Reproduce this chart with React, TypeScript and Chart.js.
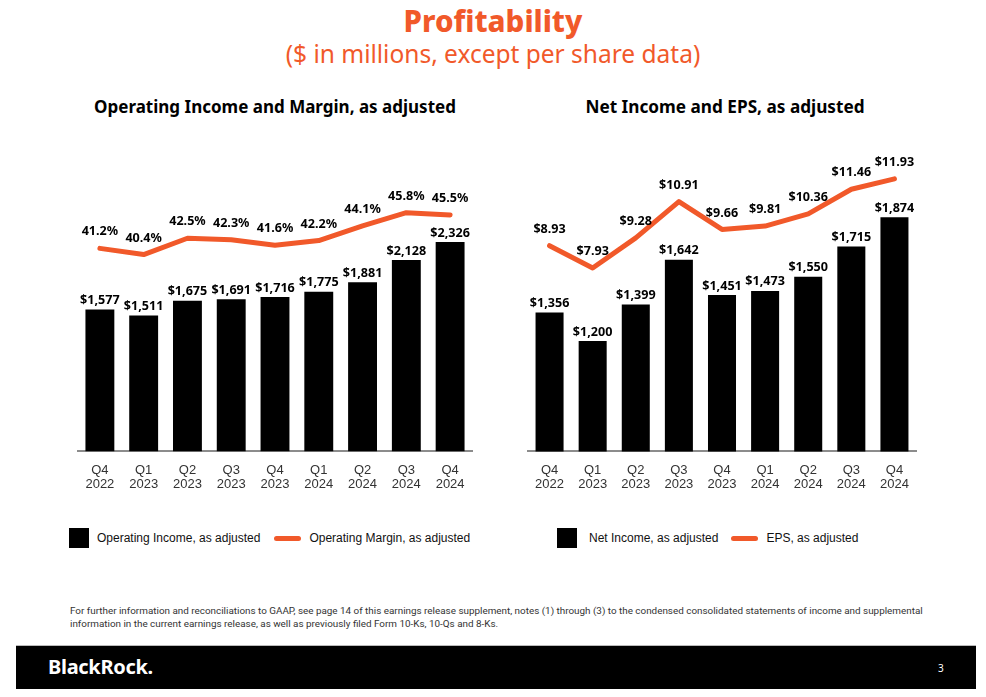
import React, { useEffect, useRef } from "react";
import { Chart, registerables } from "chart.js";

Chart.register(...registerables);

const QUARTERS: string[][] = [
  ["Q4", "2022"], ["Q1", "2023"], ["Q2", "2023"], ["Q3", "2023"], ["Q4", "2023"],
  ["Q1", "2024"], ["Q2", "2024"], ["Q3", "2024"], ["Q4", "2024"],
];
const OP_INCOME = [1577, 1511, 1675, 1691, 1716, 1775, 1881, 2128, 2326];
const OP_MARGIN = [41.2, 40.4, 42.5, 42.3, 41.6, 42.2, 44.1, 45.8, 45.5];
const NET_INCOME = [1356, 1200, 1399, 1642, 1451, 1473, 1550, 1715, 1874];
const EPS = [8.93, 7.93, 9.28, 10.91, 9.66, 9.81, 10.36, 11.46, 11.93];

const ORANGE = "#F1592A";
const LABEL_FONT = "bold 12.6px 'Noto Sans', sans-serif";

const fmtMoney = (v: number) => "$" + v.toLocaleString("en-US");
const fmtPct = (v: number) => v.toFixed(1) + "%";
const fmtEps = (v: number) => "$" + v.toFixed(2);

const valueLabels = {
  id: "valueLabels",
  afterDatasetsDraw(chart: any) {
    const ctx = chart.ctx;
    ctx.save();
    ctx.font = LABEL_FONT;
    ctx.fillStyle = "#000";
    ctx.textAlign = "center";
    ctx.textBaseline = "middle";
    chart.data.datasets.forEach((ds: any, i: number) => {
      const meta = chart.getDatasetMeta(i);
      const fmt = ds.fmt as (v: number) => string;
      const off = ds.type === "bar" ? 9 : 16.5;
      meta.data.forEach((el: any, j: number) => {
        ctx.fillText(fmt(ds.data[j]), el.x, el.y - off);
      });
    });
    ctx.restore();
  },
};

type ChartProps = {
  left: number;
  bars: number[];
  line: number[];
  barFmt: (v: number) => string;
  lineFmt: (v: number) => string;
  yMin: number;
  yMax: number;
  y2Min: number;
  y2Max: number;
  padRight: number;
  barPct: number;
};

function ComboChart(p: ChartProps) {
  const ref = useRef<HTMLCanvasElement | null>(null);
  useEffect(() => {
    if (!ref.current) return;
    const chart = new Chart(ref.current, {
      data: {
        labels: QUARTERS,
        datasets: [
          {
            type: "line",
            data: p.line,
            yAxisID: "y2",
            borderColor: ORANGE,
            borderWidth: 5,
            pointRadius: 0,
            tension: 0,
            borderJoinStyle: "round",
            borderCapStyle: "round",
            order: 0,
            fmt: p.lineFmt,
          } as any,
          {
            type: "bar",
            data: p.bars,
            yAxisID: "y",
            backgroundColor: "#000",
            barPercentage: p.barPct,
            categoryPercentage: 1,
            order: 1,
            fmt: p.barFmt,
          } as any,
        ],
      },
      options: {
        responsive: false,
        animation: false,
        layout: { padding: { left: 18, right: p.padRight, top: 0, bottom: 1 } },
        plugins: { legend: { display: false }, tooltip: { enabled: false } },
        scales: {
          x: {
            offset: true,
            grid: { display: false, drawTicks: false },
            border: { display: true, color: "#8c8c8c", width: 2 },
            ticks: {
              color: "#333",
              padding: 12,
              maxRotation: 0,
              autoSkip: false,
              font: { family: "'Liberation Sans', Arial, sans-serif", size: 13, lineHeight: 1.1 },
            },
          },
          y: { display: false, min: p.yMin, max: p.yMax },
          y2: { display: false, min: p.y2Min, max: p.y2Max, position: "right" },
        },
      },
      plugins: [valueLabels],
    });
    return () => chart.destroy();
  }, []);
  return (
    <canvas
      ref={ref}
      width={430}
      height={375}
      style={{ position: "absolute", left: p.left, top: 130, width: 430, height: 375 }}
    />
  );
}

const txt = (style: React.CSSProperties, s: string) => (
  <div style={{ position: "absolute", whiteSpace: "nowrap", ...style }}>{s}</div>
);

function Legend({ left, barText, lineText, textGap, gap }: { left: number; barText: string; lineText: string; textGap: number; gap: number }) {
  return (
    <div
      style={{
        position: "absolute",
        left,
        top: 528,
        height: 20,
        display: "flex",
        alignItems: "center",
        fontFamily: "'Liberation Sans', Arial, sans-serif",
        fontSize: 12,
        color: "#111",
        whiteSpace: "nowrap",
      }}
    >
      <div style={{ width: 20, height: 20, background: "#000" }} />
      <div style={{ marginLeft: textGap }}>{barText}</div>
      <div style={{ marginLeft: gap, width: 27, height: 5, borderRadius: 3, background: ORANGE }} />
      <div style={{ marginLeft: 8 }}>{lineText}</div>
    </div>
  );
}

export default function App() {
  return (
    <div
      style={{
        position: "absolute",
        left: 0,
        top: 0,
        width: 986,
        height: 697,
        background: "#fff",
        overflow: "hidden",
        fontFamily: "'Noto Sans', sans-serif",
      }}
    >
      {txt({ left: 0, width: 986, textAlign: "center", top: 2, fontSize: 29.5, fontWeight: 800, color: ORANGE, lineHeight: "38px" }, "Profitability")}
      {txt({ left: 0, width: 986, textAlign: "center", top: 38, fontSize: 24.5, color: ORANGE, lineHeight: "32px" }, "($ in millions, except per share data)")}
      {txt({ left: 60, width: 430, textAlign: "center", top: 95, fontSize: 17, fontWeight: 700, color: "#000", lineHeight: "24px" }, "Operating Income and Margin, as adjusted")}
      {txt({ left: 510, width: 430, textAlign: "center", top: 95, fontSize: 17.2, fontWeight: 700, color: "#000", lineHeight: "24px" }, "Net Income and EPS, as adjusted")}

      <ComboChart
        left={60}
        bars={OP_INCOME}
        line={OP_MARGIN}
        barFmt={fmtMoney}
        lineFmt={fmtPct}
        yMin={0}
        yMax={3572}
        y2Min={15.06}
        y2Max={56.44}
        padRight={18}
        barPct={0.66}
      />
      <ComboChart
        left={510}
        bars={NET_INCOME}
        line={EPS}
        barFmt={fmtMoney}
        lineFmt={fmtEps}
        yMin={600}
        yMax={2348}
        y2Min={-0.3}
        y2Max={14.12}
        padRight={24}
        barPct={0.65}
      />

      <Legend left={69} barText="Operating Income, as adjusted" lineText="Operating Margin, as adjusted" textGap={8} gap={14} />
      <Legend left={557} barText="Net Income, as adjusted" lineText="EPS, as adjusted" textGap={12} gap={13} />

      <div
        style={{
          position: "absolute",
          left: 70,
          top: 605,
          width: 900,
          fontFamily: "Roboto, sans-serif",
          fontSize: 9.9,
          lineHeight: "12.5px",
          color: "#333",
          whiteSpace: "nowrap",
        }}
      >
        For further information and reconciliations to GAAP, see page 14 of this earnings release supplement, notes (1) through (3) to the condensed consolidated statements of income and supplemental
        <br />
        information in the current earnings release, as well as previously filed Form 10-Ks, 10-Qs and 8-Ks.
      </div>

      <div style={{ position: "absolute", left: 16, top: 645, width: 960, height: 44, background: "#000", borderTop: "1px solid #bbb", boxSizing: "border-box" }} />
      {txt({ left: 48, top: 653, fontSize: 20, fontWeight: 700, color: "#fff", lineHeight: "28px", letterSpacing: -0.3 }, "BlackRock.")}
      {txt({ left: 938, top: 661, fontSize: 10, color: "#fff", lineHeight: "14px" }, "3")}
    </div>
  );
}
